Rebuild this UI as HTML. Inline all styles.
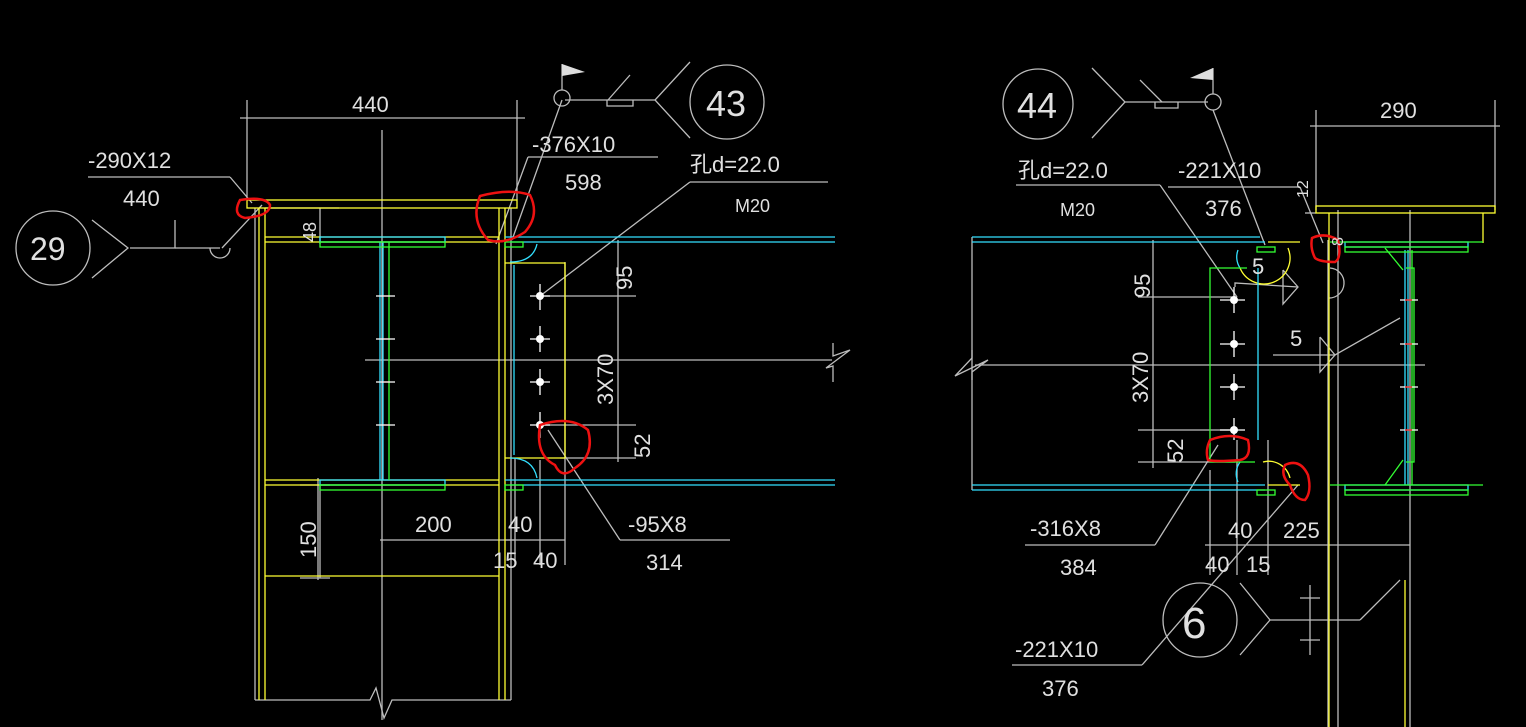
<!DOCTYPE html>
<html><head><meta charset="utf-8"><style>
html,body{margin:0;padding:0;background:#000;}
svg{display:block}
text{font-family:"Liberation Sans","Noto Sans CJK SC",sans-serif;fill:#e0e0e0;font-size:22px}
</style></head><body>
<svg width="1526" height="727" viewBox="0 0 1526 727" xmlns="http://www.w3.org/2000/svg">
<rect width="1526" height="727" fill="#000"/>
<g fill="none" stroke-width="1.3">
<!-- ===== LEFT DRAWING ===== -->
<g stroke="#bdbdbd">
<line x1="247" y1="100" x2="247" y2="200"/>
<line x1="517" y1="100" x2="517" y2="200"/>
<line x1="240" y1="118" x2="525" y2="118"/>
<line x1="382" y1="130" x2="382" y2="720"/>
<line x1="365" y1="360" x2="832" y2="360"/>
<polyline points="833,343 833,356 850,350 826,368 833,366 833,382"/>
<line x1="255" y1="208" x2="255" y2="700"/>
<line x1="511" y1="208" x2="511" y2="700"/>
<polyline points="255,700 370,700 376,688 384,718 392,700 511,700"/>
<line x1="265" y1="208" x2="339" y2="208"/>
<line x1="320" y1="208" x2="320" y2="244"/>
<line x1="88" y1="177" x2="230" y2="177"/>
<line x1="230" y1="177" x2="252" y2="203"/>
<polyline points="130,248 175,248 175,220"/>
<line x1="175" y1="248" x2="220" y2="248"/>
<path d="M210,248 A10,10 0 0 0 230,248"/>
<line x1="222" y1="248" x2="262" y2="205"/>
<polyline points="92,220 128,248 92,278"/>
<circle cx="53" cy="248" r="37"/>
<line x1="512" y1="240" x2="562" y2="100"/>
<line x1="565" y1="100" x2="655" y2="100"/>
<circle cx="562" cy="98" r="8"/>
<line x1="562" y1="90" x2="562" y2="64"/>
<polyline points="607,100 607,106 633,106 633,100"/>
<line x1="608" y1="100" x2="630" y2="75"/>
<polyline points="690,62 655,100 690,138"/>
<circle cx="727" cy="102" r="37"/>
<line x1="528" y1="157" x2="658" y2="157"/>
<line x1="528" y1="157" x2="496" y2="244"/>
<line x1="540" y1="296" x2="690" y2="182"/>
<line x1="690" y1="182" x2="828" y2="182"/>
<line x1="540" y1="296" x2="636" y2="296"/>
<line x1="540" y1="425" x2="636" y2="425"/>
<line x1="560" y1="458" x2="636" y2="458"/>
<line x1="618" y1="240" x2="618" y2="462"/>
<line x1="565" y1="262" x2="565" y2="565"/>
<line x1="515" y1="458" x2="515" y2="565"/>
<line x1="540" y1="460" x2="540" y2="565"/>
<line x1="505" y1="540" x2="565" y2="540"/>
<line x1="380" y1="540" x2="515" y2="540"/>
<line x1="620" y1="540" x2="730" y2="540"/>
<line x1="548" y1="430" x2="620" y2="540"/>
<line x1="320" y1="485" x2="320" y2="578"/>
<line x1="300" y1="578" x2="330" y2="578"/>
<line x1="300" y1="485" x2="330" y2="485"/>
<line x1="318" y1="478" x2="318" y2="580"/>
</g>
<g stroke="#ffff33">
<rect x="247" y="200" width="270" height="8"/>
<line x1="259" y1="208" x2="259" y2="700"/>
<line x1="265" y1="208" x2="265" y2="700"/>
<line x1="499" y1="208" x2="499" y2="700"/>
<line x1="505" y1="208" x2="505" y2="700"/>
<line x1="265" y1="237" x2="499" y2="237"/>
<line x1="265" y1="242" x2="499" y2="242"/>
<line x1="265" y1="480" x2="499" y2="480"/>
<line x1="265" y1="485" x2="499" y2="485"/>
<polyline points="505,263 565,263 565,458 505,458"/>
<line x1="265" y1="576" x2="499" y2="576"/>
</g>
<g stroke="#33e0ff">
<rect x="320" y="237" width="125" height="5"/>
<rect x="320" y="480" width="125" height="5"/>
<line x1="380" y1="242" x2="380" y2="480"/>
<line x1="383" y1="242" x2="383" y2="480"/>
<line x1="505" y1="237" x2="835" y2="237"/>
<line x1="510" y1="242" x2="835" y2="242"/>
<line x1="505" y1="480" x2="835" y2="480"/>
<line x1="510" y1="485" x2="835" y2="485"/>
<line x1="514" y1="265" x2="514" y2="455"/>
<path d="M510,262 Q533,262 537,244"/>
<path d="M510,458 Q533,458 537,478"/>
</g>
<g stroke="#33ff33">
<rect x="320" y="242" width="125" height="5"/>
<rect x="320" y="485" width="125" height="5"/>
<line x1="389" y1="242" x2="389" y2="480"/>
<rect x="505" y="242" width="18" height="5"/>
<rect x="505" y="485" width="18" height="5"/>
</g>
<g stroke="#ff2222"><line x1="383" y1="296" x2="389" y2="296"/><line x1="383" y1="339" x2="389" y2="339"/><line x1="383" y1="382" x2="389" y2="382"/><line x1="383" y1="425" x2="389" y2="425"/></g>
<g stroke="#fff"><line x1="376" y1="296" x2="395" y2="296"/><line x1="376" y1="339" x2="395" y2="339"/><line x1="376" y1="382" x2="395" y2="382"/><line x1="376" y1="425" x2="395" y2="425"/>
<line x1="530" y1="296" x2="550" y2="296"/><line x1="540" y1="284" x2="540" y2="310"/>
<line x1="530" y1="339" x2="550" y2="339"/><line x1="540" y1="326" x2="540" y2="352"/>
<line x1="530" y1="382" x2="550" y2="382"/><line x1="540" y1="369" x2="540" y2="395"/>
<line x1="530" y1="425" x2="550" y2="425"/><line x1="540" y1="412" x2="540" y2="438"/></g>
<g fill="#fff"><circle cx="540" cy="296" r="4"/><circle cx="540" cy="339" r="4"/><circle cx="540" cy="382" r="4"/><circle cx="540" cy="425" r="4"/></g>
<polygon points="562,64 562,76 585,72" fill="#ddd" stroke="none"/>
<g stroke="#ee1111" stroke-width="2.5">
<path d="M240,200 Q265,196 270,205 Q270,216 245,218 Q232,215 240,200Z"/>
<path d="M480,196 Q510,188 530,195 Q540,215 525,232 Q505,245 488,240 Q470,220 480,196Z"/>
<path d="M540,425 Q570,415 588,430 Q595,455 575,468 Q562,480 555,465 Q535,455 540,425Z"/>
</g>

<!-- ===== RIGHT DRAWING ===== -->
<g stroke="#bdbdbd">
<line x1="972" y1="237" x2="972" y2="490"/>
<polyline points="972,350 972,358 955,376 988,360 972,372 972,380"/>
<line x1="975" y1="365" x2="1425" y2="365"/>
<line x1="1316" y1="110" x2="1316" y2="210"/>
<line x1="1495" y1="100" x2="1495" y2="210"/>
<line x1="1310" y1="126" x2="1500" y2="126"/>
<line x1="1305" y1="213" x2="1316" y2="213"/>
<line x1="1328" y1="240" x2="1328" y2="727"/>
<line x1="1338" y1="210" x2="1338" y2="727"/>
<line x1="1410" y1="210" x2="1410" y2="727"/>
<polyline points="1092,68 1125,102 1092,138"/>
<circle cx="1038" cy="104" r="35"/>
<line x1="1125" y1="102" x2="1208" y2="102"/>
<polyline points="1155,102 1155,108 1178,108 1178,102"/>
<line x1="1162" y1="102" x2="1140" y2="80"/>
<circle cx="1213" cy="102" r="8"/>
<line x1="1213" y1="94" x2="1213" y2="68"/>
<line x1="1213" y1="110" x2="1265" y2="245"/>
<line x1="1016" y1="185" x2="1160" y2="185"/>
<line x1="1160" y1="185" x2="1237" y2="297"/>
<line x1="1168" y1="187" x2="1300" y2="187"/>
<line x1="1300" y1="187" x2="1323" y2="243"/>
<line x1="1138" y1="297" x2="1235" y2="297"/>
<line x1="1138" y1="430" x2="1235" y2="430"/>
<line x1="1138" y1="462" x2="1235" y2="462"/>
<line x1="1153" y1="240" x2="1153" y2="468"/>
<polyline points="1235,287 1235,283 1298,287"/>
<polyline points="1283,270 1298,287 1283,304 1283,270"/>
<path d="M1330,268 A14,14 0 1 1 1328,298"/>
<polyline points="1273,355 1335,355 1400,318"/>
<polyline points="1320,337 1335,355 1320,372 1320,337"/>
<line x1="1210" y1="470" x2="1210" y2="575"/>
<line x1="1237" y1="440" x2="1237" y2="575"/>
<line x1="1268" y1="440" x2="1268" y2="575"/>
<line x1="1205" y1="545" x2="1410" y2="545"/>
<line x1="1218" y1="445" x2="1155" y2="545"/>
<line x1="1025" y1="545" x2="1155" y2="545"/>
<line x1="1298" y1="485" x2="1142" y2="665"/>
<line x1="1012" y1="665" x2="1142" y2="665"/>
<circle cx="1200" cy="620" r="37"/>
<polyline points="1240,583 1270,620 1240,655"/>
<line x1="1270" y1="620" x2="1360" y2="620"/>
<line x1="1310" y1="585" x2="1310" y2="655"/>
<line x1="1300" y1="598" x2="1320" y2="598"/>
<line x1="1300" y1="640" x2="1320" y2="640"/>
<line x1="1360" y1="620" x2="1400" y2="580"/>
</g>
<g stroke="#ffff33">
<rect x="1316" y="206" width="179" height="7"/>
<line x1="1329" y1="213" x2="1329" y2="727"/>
<line x1="1483" y1="213" x2="1483" y2="243"/>
<line x1="1268" y1="242" x2="1300" y2="242"/>
<line x1="1268" y1="485" x2="1300" y2="485"/>
<path d="M1240,268 A20,20 0 0 0 1288,248"/>
<path d="M1263,462 A22,22 0 0 1 1290,478"/>
<line x1="1405" y1="580" x2="1405" y2="727"/>
</g>
<g stroke="#33e0ff">
<line x1="972" y1="237" x2="1260" y2="237"/>
<line x1="972" y1="242" x2="1265" y2="242"/>
<line x1="972" y1="485" x2="1265" y2="485"/>
<line x1="972" y1="490" x2="1265" y2="490"/>
<line x1="1258" y1="268" x2="1258" y2="440"/>
<rect x="1345" y="242" width="123" height="5"/>
<rect x="1345" y="485" width="123" height="5"/>
<line x1="1405" y1="250" x2="1405" y2="485"/>
<line x1="1408" y1="250" x2="1408" y2="485"/>
<path d="M1240,268 A20,20 0 0 1 1238,250"/>
<path d="M1240,462 A20,20 0 0 0 1238,482"/>
</g>
<g stroke="#33ff33">
<polyline points="1247,268 1210,268 1210,462 1255,462"/>
<rect x="1257" y="247" width="18" height="5"/>
<rect x="1257" y="490" width="18" height="5"/>
<rect x="1345" y="247" width="123" height="5"/>
<rect x="1345" y="490" width="123" height="5"/>
<line x1="1330" y1="242" x2="1483" y2="242"/>
<line x1="1330" y1="485" x2="1483" y2="485"/>
<polyline points="1406,268 1414,268 1414,462 1406,462"/>
<line x1="1385" y1="248" x2="1403" y2="270"/>
<line x1="1385" y1="485" x2="1403" y2="460"/>
<line x1="1412" y1="250" x2="1412" y2="485"/>
</g>
<g stroke="#fff">
<line x1="1220" y1="300" x2="1245" y2="300"/><line x1="1234" y1="287" x2="1234" y2="313"/>
<line x1="1220" y1="344" x2="1245" y2="344"/><line x1="1234" y1="331" x2="1234" y2="357"/>
<line x1="1220" y1="387" x2="1245" y2="387"/><line x1="1234" y1="374" x2="1234" y2="400"/>
<line x1="1220" y1="430" x2="1245" y2="430"/><line x1="1234" y1="418" x2="1234" y2="440"/>
<line x1="1400" y1="300" x2="1418" y2="300"/><line x1="1400" y1="344" x2="1418" y2="344"/>
<line x1="1400" y1="387" x2="1418" y2="387"/><line x1="1400" y1="430" x2="1418" y2="430"/>
</g>
<g fill="#fff"><circle cx="1234" cy="300" r="4"/><circle cx="1234" cy="344" r="4"/><circle cx="1234" cy="387" r="4"/><circle cx="1234" cy="430" r="4"/></g>
<g stroke="#ff2222"><line x1="1405" y1="300" x2="1412" y2="300"/><line x1="1405" y1="344" x2="1412" y2="344"/><line x1="1405" y1="387" x2="1412" y2="387"/><line x1="1405" y1="430" x2="1412" y2="430"/></g>
<polygon points="1213,68 1213,80 1190,78" fill="#ddd" stroke="none"/>
<g stroke="#ee1111" stroke-width="2.5">
<path d="M1312,238 Q1325,232 1338,240 Q1342,258 1335,262 Q1320,262 1315,258 Q1310,248 1312,238Z"/>
<path d="M1210,440 Q1230,432 1248,440 Q1252,458 1240,460 Q1215,462 1208,460 Q1205,450 1210,440Z"/>
<path d="M1285,465 Q1300,458 1308,475 Q1312,492 1305,500 Q1295,500 1290,485 Q1280,475 1285,465Z"/>
</g>
</g>

<g>
<text x="352" y="112">440</text>
<text x="88" y="168">-290X12</text>
<text x="123" y="206">440</text>
<text x="30" y="260" style="font-size:32px">29</text>
<text x="706" y="116" style="font-size:36px">43</text>
<text x="532" y="152">-376X10</text>
<text x="565" y="190">598</text>
<text x="690" y="172">孔d=22.0</text>
<text x="735" y="212" style="font-size:18px">M20</text>
<text transform="translate(316,242) rotate(-90)" style="font-size:18px">48</text>
<text transform="translate(632,290) rotate(-90)">95</text>
<text transform="translate(613,405) rotate(-90)">3X70</text>
<text transform="translate(650,458) rotate(-90)">52</text>
<text transform="translate(316,558) rotate(-90)">150</text>
<text x="415" y="532">200</text>
<text x="508" y="532">40</text>
<text x="493" y="568">15</text>
<text x="533" y="568">40</text>
<text x="628" y="532">-95X8</text>
<text x="646" y="570">314</text>

<text x="1017" y="118" style="font-size:36px">44</text>
<text x="1380" y="118">290</text>
<text x="1018" y="178">孔d=22.0</text>
<text x="1060" y="216" style="font-size:18px">M20</text>
<text x="1178" y="178">-221X10</text>
<text x="1205" y="216">376</text>
<text transform="translate(1308,198) rotate(-90)" style="font-size:16px">12</text>
<text transform="translate(1343,246) rotate(-90)" style="font-size:16px">8</text>
<text x="1252" y="274">5</text>
<text x="1290" y="346">5</text>
<text transform="translate(1150,298) rotate(-90)">95</text>
<text transform="translate(1148,403) rotate(-90)">3X70</text>
<text transform="translate(1183,463) rotate(-90)">52</text>
<text x="1228" y="538">40</text>
<text x="1283" y="538">225</text>
<text x="1205" y="572">40</text>
<text x="1246" y="572">15</text>
<text x="1030" y="536">-316X8</text>
<text x="1060" y="575">384</text>
<text x="1182" y="638" style="font-size:44px">6</text>
<text x="1015" y="657">-221X10</text>
<text x="1042" y="696">376</text>
</g>
</svg>
</body></html>
